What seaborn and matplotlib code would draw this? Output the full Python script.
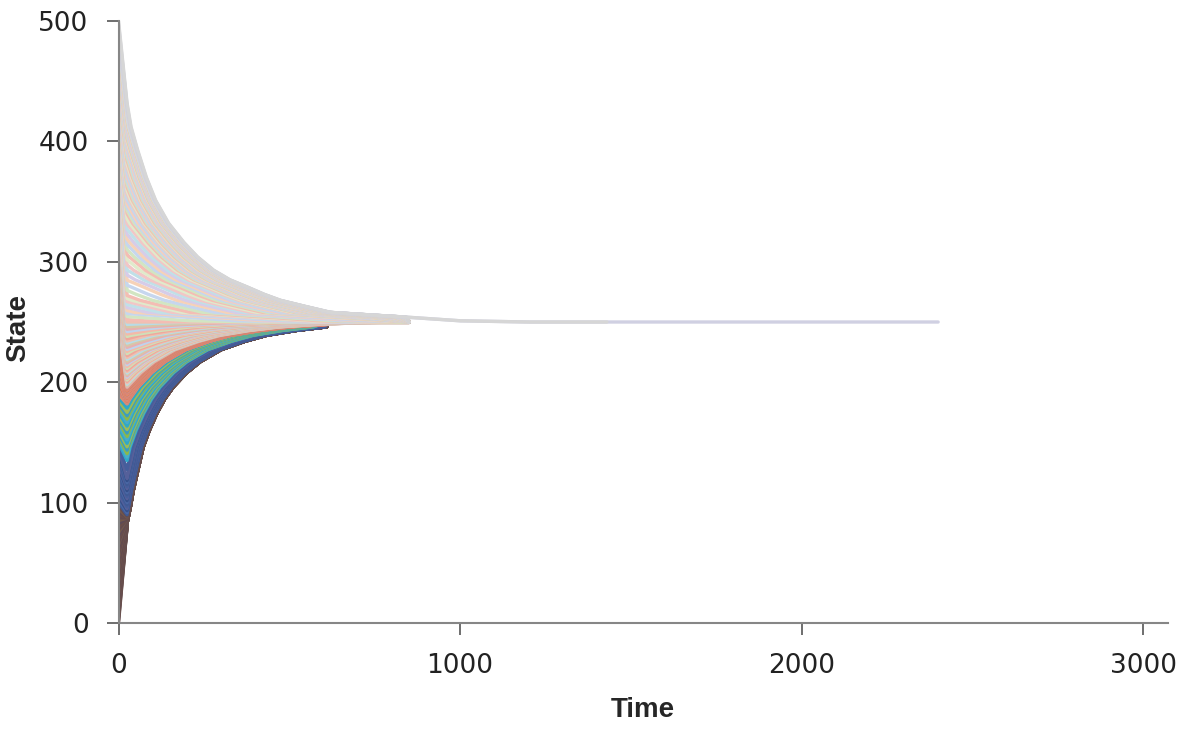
import numpy as np
import pandas as pd
import matplotlib
matplotlib.use("Agg")
import matplotlib.pyplot as plt
import seaborn as sns

# ---------------- data ----------------
equilibrium = 250

# lower envelope (trajectory rising from below, read along the bottom edge of the fan)
lower_times = [25, 35, 43, 55, 72, 90, 112, 135, 160, 200, 239, 300, 370, 434, 520, 610, 720, 850, 1000]
lower_values = [83, 97, 110, 125, 146, 160, 174, 186, 196, 208, 217, 227, 234, 239, 243, 246, 248, 249.5, 250]

# upper envelope (trajectory falling from 500, read along the top edge of the fan)
upper_times = [0, 10, 22, 35, 54, 80, 107, 145, 190, 230, 277, 325, 376, 425, 473, 545, 620, 730, 844, 1000, 1200]
upper_values = [500, 470, 434, 412, 393, 370, 351, 332, 316, 304, 293, 285, 279, 273, 268, 263, 258, 256, 254, 251, 250]

# state reached after the first (fast) step, as a function of the starting state
step_time = 25
step_from = [0, 95, 100, 145, 150, 185, 190, 220, 250, 280, 300, 320, 340, 360, 400, 450, 500]
step_to = [80, 88, 90, 120, 135, 175, 182, 188, 196, 210, 222, 236, 252, 272, 340, 395, 432]

# starting states of the plotted trajectories (every 2.5 units from 0 to 500)
start_states = [k * 2.5 for k in range(201)]

x_ticks = [0, 1000, 2000, 3000]
y_ticks = [0, 100, 200, 300, 400, 500]

# ---------------- colours (by band of starting state) ----------------
bands = [
    (0,   ['#6B4E48', '#5E4A55', '#74584A', '#634B4F']),
    (100, ['#3F5A94', '#4A67A5', '#35508A', '#55609A', '#465E9C']),
    (150, ['#2FA8C8', '#4BACC6', '#8CB84A', '#3C9DC0', '#9BBB59']),
    (190, ['#D9705F', '#E8906A', '#D88A7A', '#E07B70', '#C9A08A']),
    (250, ['#EFA89C', '#CFE0B8', '#F4B9A8', '#BFD3EC', '#E8B0B0', '#D6C8A8', '#B8DCE6', '#F0C0B0']),
    (340, ['#F4BDB4', '#D2E5C2', '#C6D6EE', '#F6D2B8', '#D6CCE8', '#C0E0E8', '#F2C6C6', '#E0EACB']),
    (485, ['#D6D6E2', '#D9D9D9', '#D3D3E3', '#D4D4D4', '#D8D8E4']),
]
last_colors = {497.5: '#D0D0E2', 500.0: '#D6D6D6'}


def color_for(i, s):
    if s in last_colors:
        return last_colors[s]
    cols = None
    for lo, c in bands:
        if s >= lo:
            cols = c
    return cols[i % len(cols)]


def end_time_for(s):
    if s >= 500:
        return 1430
    if s >= 497:
        return 2400
    if s < 250:
        return 613
    return 850


lt = np.array(lower_times, float)
lv = np.array(lower_values, float)
ut = np.array(upper_times, float)
uv = np.array(upper_values, float)

rows = []
colors = {}
order = []
for i, s in enumerate(start_states):
    name = f"s{s}"
    order.append(name)
    colors[name] = color_for(i, s)
    tend = end_time_for(s)
    y1 = float(np.interp(s, step_from, step_to))
    pts = [(0.0, float(s)), (float(step_time), y1)]
    if y1 < equilibrium:
        tau = float(np.interp(y1, lv, lt))
        for t, v in zip(lt, lv):
            if v > y1:
                pts.append((t - tau + step_time, v))
    else:
        tau = float(np.interp(-y1, -uv, ut))
        for t, v in zip(ut, uv):
            if v < y1:
                pts.append((t - tau + step_time, v))
    pts = [p for p in pts if p[0] <= tend]
    last_v = pts[-1][1]
    pts.append((float(tend), last_v if abs(last_v - equilibrium) < 1.5 else float(equilibrium)))
    for t, v in pts:
        rows.append((name, t, v))

df = pd.DataFrame(rows, columns=["curve", "Time", "State"])

# ---------------- plot ----------------
sns.set_style("white")
plt.rcParams['font.family'] = ['DejaVu Sans']

fig = plt.figure(figsize=(11.9, 7.33), dpi=100)
ax = fig.add_axes([0.0996, 0.150, 0.8819, 0.8214])

sns.lineplot(data=df, x="Time", y="State", hue="curve", palette=colors,
             hue_order=order, estimator=None, sort=False,
             legend=False, linewidth=2.4, ax=ax)

ax.set_xlim(0, 3073)
ax.set_ylim(0, 500)
ax.set_xticks(x_ticks)
ax.set_yticks(y_ticks)
ax.set_xticklabels([str(v) for v in x_ticks])
ax.set_yticklabels([str(v) for v in y_ticks])

for side in ["top", "right"]:
    ax.spines[side].set_visible(False)
for side in ["left", "bottom"]:
    ax.spines[side].set_color("#868686")
    ax.spines[side].set_linewidth(1.5)
    ax.spines[side].set_zorder(5)

ax.tick_params(axis="both", direction="out", length=8.5, width=1.2,
               color="#555555", labelsize=19, labelcolor="#222222", pad=13)
ax.tick_params(axis="both", which="both", bottom=True, left=True)

ax.set_xlabel("Time", fontsize=20, fontweight="bold", family=["Liberation Sans", "DejaVu Sans"])
ax.set_ylabel("State", fontsize=20, fontweight="bold", family=["Liberation Sans", "DejaVu Sans"])
ax.xaxis.set_label_coords(0.5, -0.1445)
ax.xaxis.label.set_va("center")
ax.yaxis.set_label_coords(-0.0958, 0.49)
ax.yaxis.label.set_va("center")

fig.savefig("out.png", dpi=100)
